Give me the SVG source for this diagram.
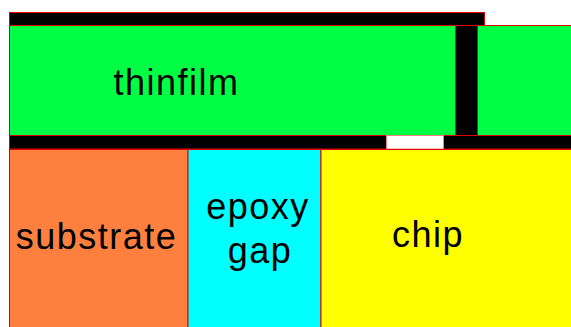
<svg xmlns="http://www.w3.org/2000/svg" width="571" height="327" viewBox="0 0 571 327">
<style>
.r{stroke:#e00000;stroke-width:1}
.t{font-family:"Liberation Sans",Arial,sans-serif;font-size:36px;fill:#000;text-anchor:middle;letter-spacing:1.5px}
</style>
<rect width="571" height="327" fill="#fff"/>
<g id="topbar"><rect class="r" x="9.5" y="12.5" width="475" height="13" fill="#000"/></g>
<g id="thinfilm">
<rect class="r" x="9.5" y="25.5" width="562" height="110" fill="#00ff44"/>
<rect class="r" x="455.5" y="25.5" width="22" height="110" fill="#000"/>
<text class="t" x="176.5" y="95">thinfilm</text>
</g>
<g id="bottombar">
<rect class="r" x="9.5" y="135.5" width="562" height="13.5" fill="#000"/>
<rect x="386.5" y="135.5" width="57" height="13.5" fill="#fff" stroke="#f08080" stroke-width="1"/>
</g>
<g id="substrate">
<rect class="r" x="9.5" y="149.5" width="178.5" height="178" fill="#ff7f3f"/>
<text class="t" x="96.5" y="249">substrate</text>
</g>
<g id="epoxy">
<rect class="r" x="188" y="149.5" width="133" height="178" fill="#00ffff"/>
<text class="t" x="258" y="219">epoxy</text>
<text class="t" x="260" y="263">gap</text>
</g>
<g id="chip">
<rect class="r" x="321" y="149.5" width="251" height="178" fill="#ffff00"/>
<text class="t" x="428" y="247">chip</text>
</g>
<g id="connectors"/>
</svg>
